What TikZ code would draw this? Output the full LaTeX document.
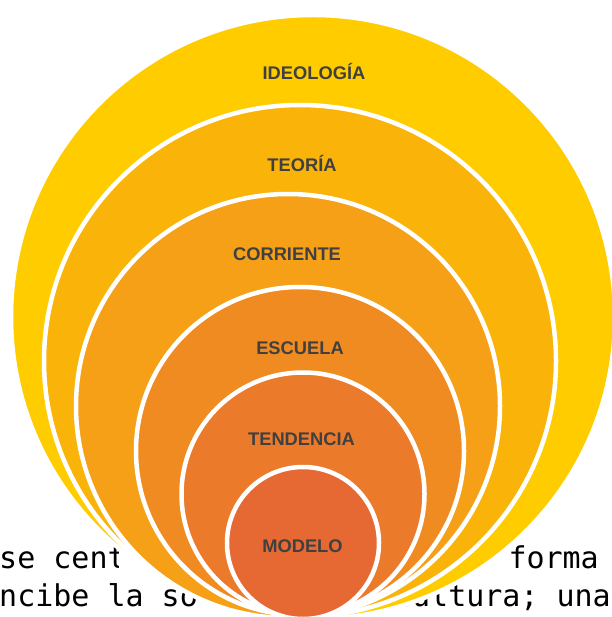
\documentclass[tikz,border=0pt]{standalone}
\usepackage{fontspec}
\setsansfont{Liberation Sans}
\setmonofont{DejaVu Sans Mono}
\definecolor{cIdeologia}{HTML}{FFCC00}
\definecolor{cTeoria}{HTML}{FAB308}
\definecolor{cCorriente}{HTML}{F5A017}
\definecolor{cEscuela}{HTML}{F08B21}
\definecolor{cTendencia}{HTML}{EC7A2B}
\definecolor{cModelo}{HTML}{E66832}
\definecolor{labelgray}{HTML}{404040}

\begin{document}
\begin{tikzpicture}[x=1pt,y=-1pt]
        \tikzstyle{ring}=[circle,draw=white,line width=4.5pt,inner sep=0pt]
        \tikzstyle{tag}=[anchor=base,inner sep=0pt,text=labelgray,font=\sffamily\bfseries\fontsize{18.3}{20}\selectfont]
        \tikzstyle{body}=[inner sep=0pt,font=\ttfamily\fontsize{30}{36}\selectfont]

        \useasboundingbox (0,0) rectangle (611,617);
        \fill[white] (0,0) rectangle (611,617);

        % page text behind the figure
        \node[body,anchor=base west] (line1-a) at (-1,568) {se centr};
        \node[body,anchor=base east] (line1-b) at (599,568) {forma};
        \node[body,anchor=base west] (line2-a) at (-1,606) {ncibe la soc};
        \node[body,anchor=base east] (line2-b) at (611,606) {cultura; una};
        \fill[white] (119,540) rectangle (505,579);
        \fill[white] (201,579) rectangle (404,617);

        % the nested circles, outer first
        \foreach \name/\x/\y/\d/\col in {ideologia/313/317/604pt/cIdeologia,
                                          teoria/300/361/512pt/cTeoria,
                                          corriente/288/406/424pt/cCorriente,
                                          escuela/300/451/328pt/cEscuela,
                                          tendencia/303/494/243pt/cTendencia,
                                          modelo/303/543/152pt/cModelo}
            \node[ring,fill=\col,minimum size=\d] (\name) at (\x,\y) {};

        % labels
        \foreach \name/\x/\y/\txt in {ideologia/314/80/IDEOLOGÍA,
                                       teoria/302/172/TEORÍA,
                                       corriente/287/260/CORRIENTE,
                                       escuela/300/354/ESCUELA,
                                       tendencia/301.5/445/TENDENCIA,
                                       modelo/302.5/552/MODELO}
            \node[tag] (\name-tag) at (\x,\y) {\txt};
\end{tikzpicture}
\end{document}
